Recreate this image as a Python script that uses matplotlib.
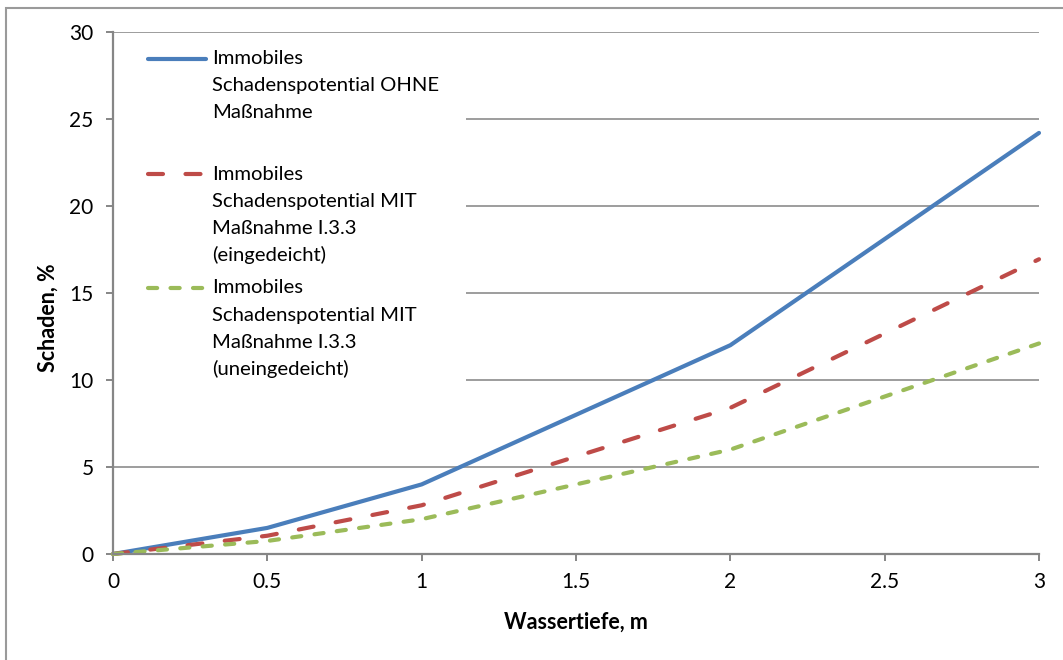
import matplotlib
matplotlib.use("Agg")
import matplotlib.pyplot as plt
from matplotlib.lines import Line2D
from matplotlib.patches import Rectangle

plt.rcParams['font.family'] = ['Lato', 'DejaVu Sans']

# Wassertiefe in m, Schaden in %
wassertiefe = [0, 0.5, 1, 2, 3]
ohne_massnahme = [0, 1.5, 4, 12, 24.2]
mit_eingedeicht = [0, 1.05, 2.8, 8.4, 16.94]
mit_uneingedeicht = [0, 0.75, 2, 6, 12.1]

labels = [
    ["Immobiles", "Schadenspotential OHNE", "Maßnahme"],
    ["Immobiles", "Schadenspotential MIT", "Maßnahme I.3.3", "(eingedeicht)"],
    ["Immobiles", "Schadenspotential MIT", "Maßnahme I.3.3", "(uneingedeicht)"],
]
xticks = [0, 0.5, 1, 1.5, 2, 2.5, 3]
xtick_labels = ["0", "0.5", "1", "1.5", "2", "2.5", "3"]
yticks = [0, 5, 10, 15, 20, 25, 30]

W, H = 1063, 660
grau = "#868686"

# line styles: colour, width, dash pattern (None = solid)
styles = [
    ("#4a7ebb", 3.0, None),
    ("#be4b48", 3.0, (3.6, 5.4)),
    ("#9bbb59", 3.0, (2.2, 3.2)),
]

fig = plt.figure(figsize=(W / 100, H / 100), dpi=100)
ax = fig.add_axes([113 / W, 1 - 554 / H, 926 / W, 522 / H])

# outer chart frame (runs off the right and bottom edge)
fig.patches.append(Rectangle((6 / W, -0.2), 1.5, 1.2 - 8 / H, transform=fig.transFigure,
                             fill=False, edgecolor="#9a9a9a", lw=1.5, zorder=0))

series = [ohne_massnahme, mit_eingedeicht, mit_uneingedeicht]
for werte, (farbe, lw, dash) in zip(series, styles):
    kw = dict(color=farbe, lw=lw, solid_capstyle="round", solid_joinstyle="round",
              dash_capstyle="round", clip_on=False)
    if dash:
        kw["dashes"] = dash
    ax.plot(wassertiefe, werte, **kw)

ax.set_xlim(0, 3)
ax.set_ylim(0, 30)
ax.set_xticks(xticks)
ax.set_xticklabels(xtick_labels)
ax.set_yticks(yticks)

ax.grid(axis="y", color="#8c8c8c", lw=1.2)
ax.grid(axis="x", visible=False)
ax.set_axisbelow(True)
for s in ["top", "right"]:
    ax.spines[s].set_visible(False)
for s in ["left", "bottom"]:
    ax.spines[s].set_color(grau)
    ax.spines[s].set_linewidth(1.6)
ax.tick_params(axis="both", direction="out", length=5, width=1.4, color=grau,
               labelsize=15, labelcolor="black")
ax.tick_params(axis="y", pad=9)
ax.tick_params(axis="x", pad=8)

ax.set_xlabel("Wassertiefe, m", fontsize=15.5, fontweight="bold", labelpad=14)
ax.set_ylabel("Schaden, %", fontsize=15.5, fontweight="bold")
ax.yaxis.set_label_coords(-0.059, 0.452)

# legend: white box over the gridlines, handle on the first text line
ax.add_patch(Rectangle((0, (554 - 392) / 522), (466 - 113) / 926, (392 - 37) / 522,
                       transform=ax.transAxes, facecolor="white", edgecolor="none", zorder=1))

def fx(px):
    return px / W

def fy(py):
    return 1 - py / H

line_y = [[59, 86, 113], [174, 201, 228, 255], [288, 315, 342, 369]]
for (farbe, lw, dash), txt, ys in zip(styles, labels, line_y):
    h = Line2D([fx(148), fx(206)], [fy(ys[0]), fy(ys[0])], transform=fig.transFigure,
               color=farbe, lw=lw, solid_capstyle="round", dash_capstyle="round")
    if dash:
        h.set_dashes(dash)
    fig.lines.append(h)
    for t, y in zip(txt, ys):
        fig.text(fx(212), fy(y), t, fontsize=14.6, va="center", ha="left")

fig.savefig("out.png", dpi=100)
